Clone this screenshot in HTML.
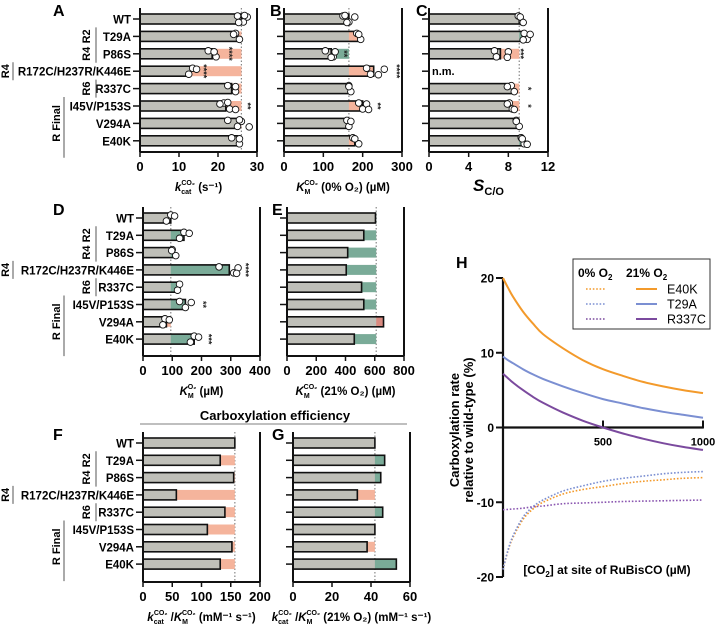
<!DOCTYPE html>
<html><head><meta charset="utf-8"><style>
body{margin:0;background:#fff}
svg{display:block;font-family:"Liberation Sans",Arial,sans-serif}
.b{font-weight:bold}
</style></head><body>
<svg id="fig" width="720" height="627" viewBox="0 0 720 627" xmlns="http://www.w3.org/2000/svg"></svg>
<script>
const NS='http://www.w3.org/2000/svg';
const svg=document.getElementById('fig');
function mk(tag,attrs,parent,text){const e=document.createElementNS(NS,tag);for(const k in attrs)e.setAttribute(k,attrs[k]);if(text!==undefined)e.textContent=text;(parent||svg).appendChild(e);return e;}

// ---------- data ----------
const mutants=['WT','T29A','P86S','R172C/H237R/K446E','R337C','I45V/P153S','V294A','E40K'];
const kcatVals=[26,25,18.5,13,23.5,22,25.5,25];
const kcatPts=[[25,26.5,27.5,25.3,26.8],[24.5,25.5,24],[17.5,19.5,19],[13.5,12.5,14.5],[22.5,24.5,24.5],[21.5,23,20.5,24.5,22.5],[22.5,25,26,28,25.5],[23.5,25.5,25.5]];
const kmco2Vals=[165,190,120,228,165,200,163,180];
const kmco2Pts=[[150,165,180,160,155],[185,195,190],[105,125,130,120],[210,220,255,240],[165,170,165],[190,200,210,215],[160,165,170],[175,190,180]];
const scoVals=[9.1,9.7,7.2,null,8.4,8.3,8.9,9.4];
const scoPts=[[9.0,9.4,9.2,9.5],[9.6,9.9,10.2,9.5],[6.6,6.8,8.0,7.9],[],[8.3,8.6,7.9],[8.1,8.4,7.9,8.6],[8.8,9.1,8.8],[9.3,9.6,9.4,9.9]];
const koVals=[95,140,105,295,120,145,80,175];
const koPts=[[95,80,108],[140,125,158],[100,112,98],[260,310,325,320],[125,118],[125,145,165],[75,68,90],[175,162,190]];
const km21Vals=[605,525,415,405,510,525,660,460];
const effVals=[157,132,155,57,140,110,152,132];
const eff21Vals=[42,47,45,33,46,42,38,53];

const kcatTicks=[0,10,20,30], kmco2Ticks=[0,100,200,300], scoTicks=[0,4,8,12];
const koTicks=[0,100,200,300,400], km21Ticks=[0,200,400,600,800];
const effTicks=[0,50,100,150,200], eff21Ticks=[0,20,40,60];

// H curves
const co2=[0,25,50,100,150,200,300,400,500,600,700,800,900,1000];
const e40k21=[20,18.7,17.5,15.5,13.9,12.5,10.6,9.0,7.8,6.9,6.1,5.5,5.0,4.6];
const t29a21=[9.5,9.0,8.6,7.8,7.1,6.5,5.5,4.6,3.8,3.2,2.6,2.1,1.7,1.3];
const r337c21=[7.2,6.6,6.0,5.0,4.1,3.3,2.0,0.9,0.0,-0.8,-1.5,-2.1,-2.6,-3.0];
const e40k0=[-19,-16.5,-14.7,-12.3,-10.9,-10.0,-8.9,-8.3,-7.9,-7.5,-7.2,-7.0,-6.8,-6.7];
const t29a0=[-19,-16.4,-14.5,-12.0,-10.6,-9.7,-8.5,-7.8,-7.2,-6.8,-6.5,-6.2,-6.0,-5.9];
const r337c0=[-11,-10.95,-10.9,-10.8,-10.6,-10.5,-10.2,-10.1,-10.0,-9.9,-9.85,-9.8,-9.75,-9.7];
const hYTicks=[20,10,0,-10,-20], hXTicks=[500,1000];

const GREY='#bfbfb8', ORANGE='#f5b49c', TEAL='#7aab98';

function barPanel(o){
  const g=mk('g',{});
  
  
  const sx=v=>o.x0+(v-o.ticks[0])/(o.ticks[o.ticks.length-1]-o.ticks[0])*(o.x1-o.x0);
  const rowY=i=>o.y0+i*o.dy;
  const max=o.ticks[o.ticks.length-1];
  const rl=mk('line',{x1:sx(o.ref),x2:sx(o.ref),y1:o.top,y2:o.axisY,stroke:'#888','stroke-width':1.2,'stroke-dasharray':'1.5,2'},g);
  
  
  o.vals.forEach((v,i)=>{
    const y=rowY(i);
    mk('line',{x1:o.x0-7,x2:o.x0,y1:y,y2:y,stroke:'#111','stroke-width':1.5},g);
    if(o.labels){const t=mk('text',{x:o.x0-9,y:y+4.5,'font-size':11.5,class:'b','text-anchor':'end'},g,mutants[i]);
      }
    if(v===null){const t=mk('text',{x:o.x0+3,y:y+4,'font-size':11,class:'b'},g,'n.m.');return;}
    const bar=mk('rect',{x:sx(0),y:y-5,width:sx(v)-sx(0),height:10,fill:GREY},g);
    
    
    if(Math.abs(v-o.ref)>max*0.004){
      const better=o.higherBetter?v>o.ref:v<o.ref;
      const sh=mk('rect',{x:sx(Math.min(v,o.ref)),y:y-5,width:Math.abs(sx(v)-sx(o.ref)),height:10,fill:better?TEAL:(v>o.ref&&!o.higherBetter&&o.redish?'#d98a80':ORANGE)},g);
      
      
    }
    mk('rect',{x:sx(0),y:y-5,width:sx(v)-sx(0),height:10,fill:'none',stroke:'#111','stroke-width':1.6},g);
    if(o.pts){const offs=[-3,3,-2,3.5,-3.5];o.pts[i].forEach((p,j)=>{
      const c=mk('circle',{cx:sx(p),cy:y+offs[j%5],r:3.3,fill:'#fff',stroke:'#111','stroke-width':0.9},g);
      
      });}
  });
  mk('line',{x1:o.x0,x2:o.x0,y1:o.top,y2:o.axisY,stroke:'#111','stroke-width':2},g);
  mk('line',{x1:o.x1,x2:o.x1,y1:o.top,y2:o.axisY,stroke:'#111','stroke-width':2},g);
  mk('line',{x1:o.x0,x2:o.x1,y1:o.axisY,y2:o.axisY,stroke:'#111','stroke-width':2},g);
  o.ticks.forEach(t=>{
    mk('line',{x1:sx(t),x2:sx(t),y1:o.axisY,y2:o.axisY+5,stroke:'#111','stroke-width':1.5},g);
    const tl=mk('text',{x:sx(t),y:o.axisY+19,'font-size':13,class:'b','text-anchor':'middle'},g,t);
    
  });
  const lt=mk('text',{x:o.letterX,y:o.top+8,'font-size':16,class:'b'},g,o.letter);
  
  const ti=mk('text',{x:(o.x0+o.x1)/2,y:o.axisY+39,'font-size':o.titleSize||11.5,class:'b','text-anchor':'middle'},g);
  
  ti.innerHTML=o.title;
  (o.stars||[]).forEach(s=>{
    const x=sx(s[1]),y=rowY(s[0]);
    mk('text',{x:0,y:0,'font-size':9,class:'b','text-anchor':'middle',transform:`translate(${x},${y}) rotate(90)`,fill:'#222'},g,s[2]);
  });
  return sx;
}

barPanel({name:'panel-a-kcat',letter:'A',letterX:53,x0:140,x1:257,top:8,axisY:152,y0:19,dy:17.4,ticks:kcatTicks,ref:26,vals:kcatVals,pts:kcatPts,higherBetter:true,labels:true,
 title:`<tspan font-style="italic">k</tspan><tspan font-size="7" dy="3">cat</tspan><tspan font-size="7" dx="-10" dy="-9">CO₂</tspan><tspan dy="6"> (s⁻¹)</tspan>`,
 stars:[[2,22,'****'],[3,15.5,'****'],[5,26.8,'**']]});
barPanel({name:'panel-b-km-co2',letter:'B',letterX:270,x0:284,x1:402,top:8,axisY:152,y0:19,dy:17.4,ticks:kmco2Ticks,ref:165,vals:kmco2Vals,pts:kmco2Pts,higherBetter:false,
 title:`<tspan font-style="italic">K</tspan><tspan font-size="7" dy="3">M</tspan><tspan font-size="7" dx="-6" dy="-9">CO₂</tspan><tspan dy="6"> (0% O₂) (µM)</tspan>`,
 stars:[[2,145,'**'],[3,278,'****'],[5,230,'**']]});
barPanel({name:'panel-c-sco',letter:'C',letterX:416,x0:429,x1:548,top:8,axisY:152,y0:19,dy:17.4,ticks:scoTicks,ref:9.1,vals:scoVals,pts:scoPts,higherBetter:true,titleSize:17,
 title:`<tspan font-style="italic">S</tspan><tspan font-size="11" dy="4">C/O</tspan>`,
 stars:[[2,8.9,'***'],[4,9.7,'*'],[5,9.7,'*']]});
barPanel({name:'panel-d-ko',letter:'D',letterX:53,x0:143,x1:260,top:207,axisY:356,y0:218,dy:17.3,ticks:koTicks,ref:95,vals:koVals,pts:koPts,higherBetter:true,labels:true,
 title:`<tspan font-style="italic">K</tspan><tspan font-size="7" dy="3">M</tspan><tspan font-size="7" dx="-6" dy="-9">O₂</tspan><tspan dy="6"> (µM)</tspan>`,
 stars:[[3,340,'****'],[5,195,'**'],[7,213,'***']]});
barPanel({name:'panel-e-km-co2-21',letter:'E',letterX:272,x0:287,x1:404,top:207,axisY:356,y0:218,dy:17.3,ticks:km21Ticks,ref:610,vals:km21Vals,higherBetter:false,redish:true,
 title:`<tspan font-style="italic">K</tspan><tspan font-size="7" dy="3">M</tspan><tspan font-size="7" dx="-6" dy="-9">CO₂</tspan><tspan dy="6"> (21% O₂) (µM)</tspan>`});
barPanel({name:'panel-f-efficiency',letter:'F',letterX:53,x0:143,x1:260,top:432,axisY:582,y0:443,dy:17.3,ticks:effTicks,ref:157,vals:effVals,higherBetter:true,labels:true,
 title:`<tspan font-style="italic">k</tspan><tspan font-size="7" dy="3">cat</tspan><tspan font-size="7" dx="-10" dy="-9">CO₂</tspan><tspan dy="6"> /</tspan><tspan font-style="italic">K</tspan><tspan font-size="7" dy="3">M</tspan><tspan font-size="7" dx="-6" dy="-9">CO₂</tspan><tspan dy="6"> (mM⁻¹ s⁻¹)</tspan>`});
barPanel({name:'panel-g-efficiency-21',letter:'G',letterX:272,x0:293,x1:410,top:432,axisY:582,y0:443,dy:17.3,ticks:eff21Ticks,ref:42,vals:eff21Vals,higherBetter:true,
 title:`<tspan font-style="italic">k</tspan><tspan font-size="7" dy="3">cat</tspan><tspan font-size="7" dx="-10" dy="-9">CO₂</tspan><tspan dy="6"> /</tspan><tspan font-style="italic">K</tspan><tspan font-size="7" dy="3">M</tspan><tspan font-size="7" dx="-6" dy="-9">CO₂</tspan><tspan dy="6"> (21% O₂) (mM⁻¹ s⁻¹)</tspan>`});

function groups(y0,dy){
  const g=mk('g',{});
  
  
  const rt=(x,y,t)=>mk('text',{x:0,y:0,'font-size':11,class:'b','text-anchor':'middle',transform:`translate(${x},${y}) rotate(-90)`},g,t);
  rt(90,y0+dy,'R2'); mk('line',{x1:96,x2:96,y1:y0+dy-9,y2:y0+dy+9,stroke:'#555','stroke-width':1},g);
  rt(90,y0+2*dy,'R4'); mk('line',{x1:96,x2:96,y1:y0+2*dy-9,y2:y0+2*dy+9,stroke:'#555','stroke-width':1},g);
  rt(9,y0+3*dy,'R4'); mk('line',{x1:13,x2:13,y1:y0+3*dy-9,y2:y0+3*dy+9,stroke:'#555','stroke-width':1},g);
  rt(90,y0+4*dy,'R6'); mk('line',{x1:96,x2:96,y1:y0+4*dy-9,y2:y0+4*dy+9,stroke:'#555','stroke-width':1},g);
  rt(60,y0+6*dy,'R Final'); mk('line',{x1:64,x2:64,y1:y0+5*dy-9,y2:y0+7*dy+17,stroke:'#555','stroke-width':1},g);
}
groups(19,17.4); groups(218,17.3); groups(443,17.3);

{const t=mk('text',{x:275,y:420,'font-size':13,class:'b','text-anchor':'middle'},svg,'Carboxylation efficiency');

mk('line',{x1:140,x2:407,y1:424,y2:424,stroke:'#999','stroke-width':1.2});}

{
const g=mk('g',{});


const X0=503,X1=703,Y20=278,Y_20=577;
const sx=v=>X0+v/1000*(X1-X0);
const sy=v=>Y20+(20-v)/40*(Y_20-Y20);
mk('text',{x:456,y:268,'font-size':16,class:'b'},g,'H');
mk('line',{x1:X0,x2:X0,y1:sy(20),y2:sy(-20),stroke:'#111','stroke-width':2.2},g);
mk('line',{x1:X0,x2:X1,y1:sy(0),y2:sy(0),stroke:'#111','stroke-width':2.2},g);
hYTicks.forEach(t=>{mk('line',{x1:X0-7,x2:X0,y1:sy(t),y2:sy(t),stroke:'#111','stroke-width':2},g);
 const l=mk('text',{x:X0-9,y:sy(t)+4.5,'font-size':12,class:'b','text-anchor':'end'},g,t);
 });
hXTicks.forEach(t=>{mk('line',{x1:sx(t),x2:sx(t),y1:sy(0)-7,y2:sy(0)+1,stroke:'#111','stroke-width':2},g);
 const l=mk('text',{x:sx(t),y:sy(0)+18,'font-size':11,class:'b','text-anchor':'middle'},g,t);
 });
function smooth(ys){
  const P=ys.map((v,i)=>[sx(co2[i]),sy(v)]);
  let d='M'+P[0][0].toFixed(1)+','+P[0][1].toFixed(1);
  for(let i=0;i<P.length-1;i++){
    const p0=P[Math.max(0,i-1)],p1=P[i],p2=P[i+1],p3=P[Math.min(P.length-1,i+2)];
    const c1=[p1[0]+(p2[0]-p0[0])/6,p1[1]+(p2[1]-p0[1])/6];
    const c2=[p2[0]-(p3[0]-p1[0])/6,p2[1]-(p3[1]-p1[1])/6];
    d+=`C${c1[0].toFixed(1)},${c1[1].toFixed(1)} ${c2[0].toFixed(1)},${c2[1].toFixed(1)} ${p2[0].toFixed(1)},${p2[1].toFixed(1)}`;
  }
  return d;
}
const series=[[e40k0,'#f39a2b',true,'e40k-0-o2'],[t29a0,'#7b8fd2',true,'t29a-0-o2'],[r337c0,'#8a56b0',true,'r337c-0-o2'],
 [e40k21,'#f39a2b',false,'e40k-21-o2'],[t29a21,'#7b8fd2',false,'t29a-21-o2'],[r337c21,'#7b4a9e',false,'r337c-21-o2']];
series.forEach(s=>{
 const p=mk('path',{d:smooth(s[0]),fill:'none',stroke:s[1],'stroke-width':s[2]?1.6:2,'stroke-dasharray':s[2]?'1.6,1.8':'none'},g);
 
 
});
const yl=mk('text',{x:0,y:0,'font-size':13,class:'b','text-anchor':'middle',transform:'translate(459,430) rotate(-90)'},g,'Carboxylation rate');

mk('text',{x:0,y:0,'font-size':13,class:'b','text-anchor':'middle',transform:'translate(473,430) rotate(-90)'},g,'relative to wild-type (%)');
const xl=mk('text',{x:607,y:574,'font-size':12,class:'b','text-anchor':'middle'},g);
xl.innerHTML='[CO<tspan font-size="8" dy="3">2</tspan><tspan dy="-3">] at site of RuBisCO (µM)</tspan>';

const lg=mk('g',{},g);


mk('rect',{x:573,y:259,width:137,height:70,fill:'#fff',stroke:'#333','stroke-width':1},lg);
mk('text',{x:578,y:277,'font-size':12,class:'b'},lg).innerHTML='0% O<tspan font-size="8" dy="3">2</tspan>';
mk('text',{x:626,y:277,'font-size':12,class:'b'},lg).innerHTML='21% O<tspan font-size="8" dy="3">2</tspan>';
const leg=[['E40K','#f39a2b'],['T29A','#7b8fd2'],['R337C','#7b4a9e']];
leg.forEach((l,i)=>{const y=289+i*15;
 mk('line',{x1:586,x2:606,y1:y,y2:y,stroke:l[1],'stroke-width':1.6,'stroke-dasharray':'1.6,1.8'},lg);
 mk('line',{x1:636,x2:657,y1:y,y2:y,stroke:l[1],'stroke-width':2},lg);
 const t=mk('text',{x:667,y:y+4.5,'font-size':12.5},lg,l[0]);
 });
}
</script>
</body></html>
